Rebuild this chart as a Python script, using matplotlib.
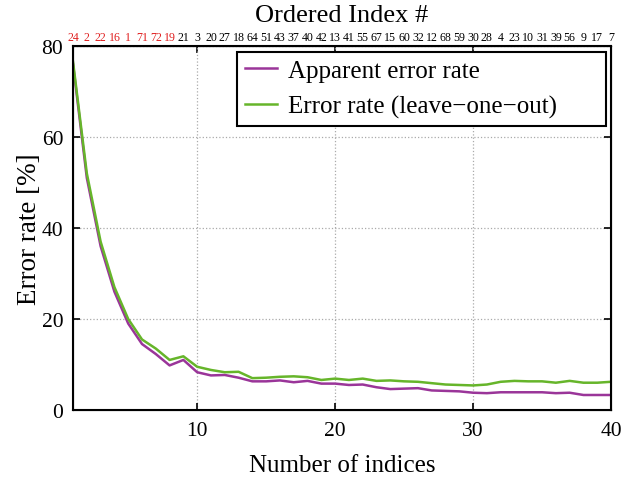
import numpy as np
import matplotlib
matplotlib.use('Agg')
import matplotlib.pyplot as plt

plt.rcParams['font.family'] = ['Liberation Serif', 'DejaVu Serif']

PURPLE = '#9a3599'
GREEN = '#66b52a'
RED = '#e02020'

n_indices = np.arange(1, 41)
ordered_index = [24, 2, 22, 16, 1, 71, 72, 19, 21, 3, 20, 27, 18, 64, 51, 43, 37, 40, 42, 13,
                 41, 55, 67, 15, 60, 32, 12, 68, 59, 30, 28, 4, 23, 10, 31, 39, 56, 9, 17, 7]
n_red = 8

apparent = [76.0, 51.0, 36.0, 26.0, 19.0, 14.5, 12.3, 9.8, 11.0, 8.3,
            7.6, 7.7, 7.1, 6.3, 6.3, 6.5, 6.1, 6.4, 5.8, 5.8,
            5.5, 5.6, 5.0, 4.6, 4.7, 4.8, 4.3, 4.2, 4.1, 3.8,
            3.7, 3.9, 3.9, 3.9, 3.9, 3.7, 3.8, 3.3, 3.3, 3.3]
loo = [76.5, 52.0, 37.0, 27.0, 20.0, 15.5, 13.5, 11.0, 11.8, 9.5,
       8.8, 8.3, 8.4, 7.0, 7.1, 7.3, 7.4, 7.2, 6.6, 6.9,
       6.6, 6.9, 6.4, 6.5, 6.3, 6.2, 5.9, 5.6, 5.5, 5.4,
       5.6, 6.2, 6.4, 6.3, 6.3, 6.0, 6.4, 6.0, 6.0, 6.2]

fig = plt.figure(figsize=(6.22, 4.81), dpi=100)
ax = fig.add_axes([0.1174, 0.1455, 0.865, 0.757])

ax.plot(n_indices, apparent, color=PURPLE, lw=1.8, label='Apparent error rate')
ax.plot(n_indices, loo, color=GREEN, lw=1.8, label='Error rate (leave\u2212one\u2212out)')

ax.set_xlim(1, 40)
ax.set_ylim(0, 80)
ax.set_xticks([10, 20, 30, 40])
ax.set_yticks([0, 20, 40, 60, 80])
ax.grid(True, color='#aaaaaa', linestyle=':', lw=0.9)
ax.tick_params(direction='in', labelsize=15.5, length=5, width=1.2, right=True)
ax.tick_params(axis='x', pad=8)
ax.tick_params(axis='y', pad=7)
for s in ax.spines.values():
    s.set_linewidth(1.5)

ax.set_xlabel('Number of indices', fontsize=18, labelpad=10)
ax.set_ylabel('Error rate [%]', fontsize=19.5, labelpad=0)

top = ax.twiny()
top.set_xlim(ax.get_xlim())
top.set_xticks(n_indices)
top.set_xticklabels([str(v) for v in ordered_index], fontsize=8.6)
top.tick_params(length=0, pad=2)
for i, lab in enumerate(top.get_xticklabels()):
    lab.set_color(RED if i < n_red else 'black')
top.set_xlabel('Ordered Index #', fontsize=19, labelpad=7)

# inward ticks on the top edge
ax2 = ax.secondary_xaxis('top')
ax2.set_xticks([10, 20, 30, 40])
ax2.set_xticklabels([])
ax2.tick_params(direction='in', length=5, width=1.2)

leg = ax.legend(loc='upper left', bbox_to_anchor=(0.305, 0.0, 0.686, 0.9835),
                mode='expand', fontsize=18, fancybox=False, framealpha=1,
                edgecolor='black', handlelength=1.3, handletextpad=0.45,
                borderpad=0.3, labelspacing=0.53, borderaxespad=0)
leg.get_frame().set_linewidth(1.5)

fig.savefig('out.png', dpi=100)
